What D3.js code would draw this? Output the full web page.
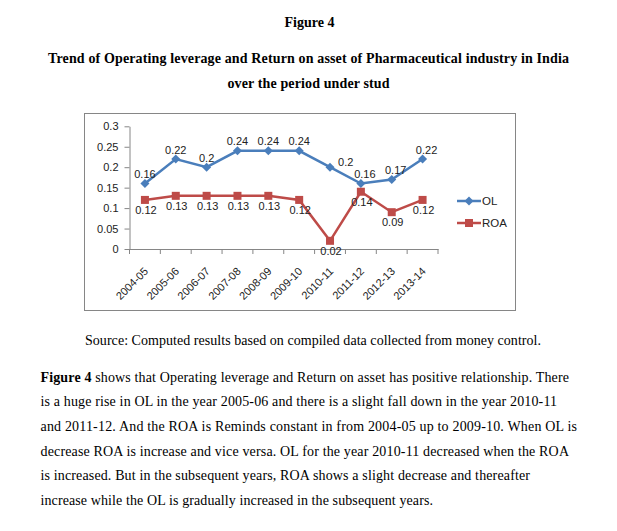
<!DOCTYPE html>
<html>
<head>
<meta charset="utf-8">
<script src="https://cdnjs.cloudflare.com/ajax/libs/d3/7.8.5/d3.min.js"></script>
<style>
  body { margin: 0; background: #fff; }
  .serif { font-family: "Liberation Serif", "Times New Roman", serif; fill: #000; }
  .chartText { font-family: "Liberation Sans", Arial, sans-serif; font-size: 11px; fill: #222; }
  .axis path, .axis line { stroke: #868686; }
  .axis text { font-family: "Liberation Sans", Arial, sans-serif; font-size: 11px; fill: #222; }
</style>
</head>
<body>
<svg id="chart"></svg>
<script>
var years = ["2004-05","2005-06","2006-07","2007-08","2008-09","2009-10","2010-11","2011-12","2012-13","2013-14"];
var olValues = [0.16,0.22,0.2,0.24,0.24,0.24,0.2,0.16,0.17,0.22];
var roaValues = [0.12,0.13,0.13,0.13,0.13,0.12,0.02,0.14,0.09,0.12];
var yTicks = [0,0.05,0.1,0.15,0.2,0.25,0.3];
var seriesNames = ["OL","ROA"];

var titleLines = [
  "Trend of Operating leverage and Return on asset of Pharmaceutical industry in India",
  "over the period under stud"
];
var sourceText = "Source: Computed results based on compiled data collected from money control.";
var paraLines = [
  "shows that Operating leverage and Return on asset has positive relationship. There",
  "is a huge rise in OL in the year 2005-06 and there is a slight fall down in the year 2010-11",
  "and 2011-12. And the ROA is Reminds constant in from 2004-05 up to 2009-10. When OL is",
  "decrease ROA is increase and vice versa. OL for the year 2010-11 decreased when the ROA",
  "is increased. But in the subsequent years, ROA shows a slight decrease and thereafter",
  "increase while the OL is gradually increased in the subsequent years."
];
var paraWidths = [528.5, 516.5, 536.5, 528.5, 489.5, 392.5];

var width = 617, height = 531;
var blue = "#4a7ebb", red = "#be4b48";

var svg = d3.select("#chart")
  .attr("width", width)
  .attr("height", height);

svg.append("rect").attr("width", width).attr("height", height).attr("fill", "#fff");

// Heading
svg.append("text")
  .attr("class", "serif")
  .attr("x", 309.5).attr("y", 27)
  .attr("text-anchor", "middle")
  .style("font-size", "14px").style("font-weight", "bold")
  .text("Figure 4");

svg.selectAll(".titleLine")
  .data(titleLines)
  .enter()
  .append("text")
  .attr("class", "serif titleLine")
  .attr("x", 308.5)
  .attr("y", function(d, i){ return 63 + i * 25; })
  .attr("text-anchor", "middle")
  .attr("textLength", function(d, i){ return i === 0 ? 521 : 162; })
  .attr("lengthAdjust", "spacing")
  .style("font-size", "14px").style("font-weight", "bold")
  .text(function(d){ return d; });

// Chart frame
svg.append("rect")
  .attr("x", 84.5).attr("y", 113.5)
  .attr("width", 431).attr("height", 197)
  .attr("fill", "#fff")
  .attr("stroke", "#868686")
  .attr("stroke-width", 1);

var plot = { left: 129.5, right: 438, top: 126.3, bottom: 249 };

var x = d3.scaleBand()
  .domain(years)
  .range([plot.left, plot.right]);

var y = d3.scaleLinear()
  .domain([0, 0.3])
  .range([plot.bottom, plot.top]);

var cx = function(d, i){ return x(years[i]) + x.bandwidth() / 2; };

// Y axis
svg.append("g")
  .attr("class", "axis")
  .attr("transform", "translate(" + plot.left + ",0)")
  .call(d3.axisLeft(y).tickValues(yTicks).tickSize(5).tickSizeOuter(0).tickPadding(6)
    .tickFormat(function(d){ return d3.format("")(+d.toFixed(2)); }));

// X axis
var xAxis = svg.append("g")
  .attr("class", "axis")
  .attr("transform", "translate(0," + plot.bottom + ")")
  .call(d3.axisBottom(x).tickSize(0).tickSizeOuter(0));

xAxis.selectAll(".tick text")
  .attr("text-anchor", "end")
  .attr("dy", 0)
  .attr("y", 0)
  .attr("transform", "translate(4,23) rotate(-45)");

// tick marks between categories
svg.append("g")
  .selectAll("line")
  .data(years.concat(["end"]))
  .enter()
  .append("line")
  .attr("x1", function(d, i){ return i < years.length ? x(d) : plot.right; })
  .attr("x2", function(d, i){ return i < years.length ? x(d) : plot.right; })
  .attr("y1", plot.bottom)
  .attr("y2", plot.bottom + 5)
  .attr("stroke", "#868686");

var line = d3.line()
  .x(cx)
  .y(function(d){ return y(d); });

// OL series
svg.append("path")
  .datum(olValues)
  .attr("d", line)
  .attr("fill", "none")
  .attr("stroke", blue)
  .attr("stroke-width", 2.5);

svg.append("g").selectAll("path")
  .data(olValues)
  .enter()
  .append("path")
  .attr("d", d3.symbol().type(d3.symbolDiamond2).size(52))
  .attr("transform", function(d, i){ return "translate(" + cx(d, i) + "," + y(d) + ")"; })
  .attr("fill", blue);

// ROA series
svg.append("path")
  .datum(roaValues)
  .attr("d", line)
  .attr("fill", "none")
  .attr("stroke", red)
  .attr("stroke-width", 2.5);

svg.append("g").selectAll("rect")
  .data(roaValues)
  .enter()
  .append("rect")
  .attr("x", function(d, i){ return cx(d, i) - 4; })
  .attr("y", function(d){ return y(d) - 4; })
  .attr("width", 8).attr("height", 8)
  .attr("fill", red);

// Data labels
svg.append("g").selectAll("text")
  .data(olValues)
  .enter()
  .append("text")
  .attr("class", "chartText")
  .attr("x", function(d, i){ return i === 6 ? cx(d, i) + 8 : cx(d, i) + (i > 6 ? 4 : 0); })
  .attr("y", function(d, i){ return i === 6 ? y(d) - 1 : y(d) - 5.5; })
  .attr("text-anchor", function(d, i){ return i === 6 ? "start" : "middle"; })
  .text(function(d){ return d; });

svg.append("g").selectAll("text")
  .data(roaValues)
  .enter()
  .append("text")
  .attr("class", "chartText")
  .attr("x", function(d, i){ return cx(d, i) + 1; })
  .attr("y", function(d){ return y(d) + 14; })
  .attr("text-anchor", "middle")
  .text(function(d){ return d; });

// Legend
var legend = svg.append("g")
  .attr("transform", "translate(457,0)");

seriesNames.forEach(function(name, i){
  var ly = 201 + i * 22;
  var color = i === 0 ? blue : red;
  legend.append("line")
    .attr("x1", 0).attr("x2", 24)
    .attr("y1", ly).attr("y2", ly)
    .attr("stroke", color).attr("stroke-width", 2.5);
  if (i === 0) {
    legend.append("path")
      .attr("d", d3.symbol().type(d3.symbolDiamond2).size(52))
      .attr("transform", "translate(12," + ly + ")")
      .attr("fill", color);
  } else {
    legend.append("rect")
      .attr("x", 8).attr("y", ly - 4)
      .attr("width", 8).attr("height", 8)
      .attr("fill", color);
  }
  legend.append("text")
    .attr("class", "chartText")
    .attr("x", 25).attr("y", ly + 4)
    .style("font-size", "11.5px")
    .text(name);
});

// Source line
svg.append("text")
  .attr("class", "serif")
  .attr("x", 85).attr("y", 345)
  .attr("textLength", 456)
  .attr("lengthAdjust", "spacing")
  .style("font-size", "14px")
  .text(sourceText);

// Paragraph
var para = svg.append("g");
paraLines.forEach(function(txt, i){
  var t = para.append("text")
    .attr("class", "serif")
    .attr("x", 40.5)
    .attr("y", 381.5 + i * 24.7)
    .attr("textLength", paraWidths[i])
    .attr("lengthAdjust", "spacing")
    .style("font-size", "14px");
  if (i === 0) {
    t.append("tspan").style("font-weight", "bold").text("Figure 4 ");
    t.append("tspan").text(txt);
  } else {
    t.text(txt);
  }
});
</script>
</body>
</html>
